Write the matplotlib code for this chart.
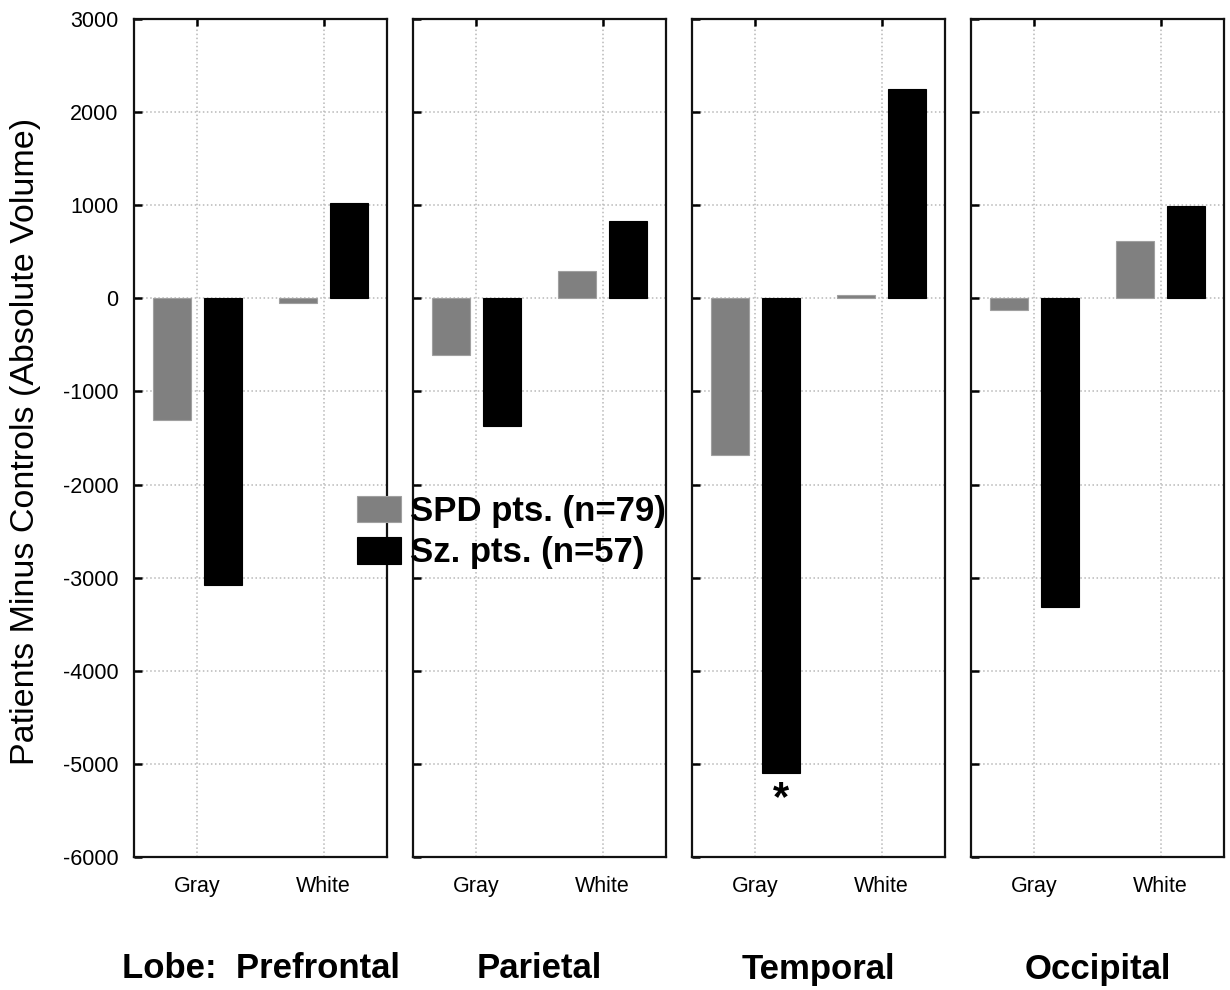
import matplotlib
matplotlib.use("Agg")
import matplotlib.pyplot as plt
import numpy as np

plt.rcParams["font.family"] = ["Liberation Sans", "DejaVu Sans"]
plt.rcParams["axes.unicode_minus"] = False

lobes = ["Prefrontal", "Parietal", "Temporal", "Occipital"]
lobe_titles = ["Lobe:  Prefrontal", "Parietal", "Temporal", "Occipital"]
tissues = ["Gray", "White"]
groups = ["SPD pts. (n=79)", "Sz. pts. (n=57)"]

# patients minus controls, per lobe: [gray, white]
spd_diff = [[-1310, -50], [-605, 290], [-1680, 40], [-120, 615]]
sz_diff = [[-3080, 1025], [-1370, 830], [-5095, 2245], [-3320, 990]]

# significant difference marked with an asterisk: (lobe, tissue)
significant = [("Temporal", "Gray")]

colors = ["#808080", "#000000"]
edges = ["#a0a0a0", "#000000"]

fig = plt.figure(figsize=(12.3, 9.9), dpi=100)

W, H = 1230, 990
panel_left = [134, 413, 692, 971]
panel_w = 253
top, bottom = 19, 857

x = np.arange(len(tissues))
axes = []
for i, lobe in enumerate(lobes):
    ax = fig.add_axes([panel_left[i] / W, 1 - bottom / H, panel_w / W, (bottom - top) / H])
    axes.append(ax)
    for g, vals in enumerate([spd_diff[i], sz_diff[i]]):
        ax.bar(x + (g - 0.5) * 0.4, vals, width=0.3, color=colors[g],
               edgecolor=edges[g], linewidth=0.8, label=groups[g], zorder=3)

    for lb, ts in significant:
        if lb == lobe:
            j = tissues.index(ts)
            ax.annotate("*", xy=(x[j] + 0.2, sz_diff[i][j]), xytext=(0, -19),
                        textcoords="offset points", ha="center", va="center",
                        fontsize=30, fontweight="bold", zorder=4)

    ax.set_xlim(-0.5, 1.5)
    ax.set_ylim(-6000, 3000)
    ax.set_yticks(np.arange(-6000, 3001, 1000))
    ax.set_xticks(x)
    ax.set_xticklabels(tissues)
    ax.grid(True, linestyle=":", color="#b8b8b8", linewidth=1.1, zorder=0)
    ax.tick_params(axis="x", bottom=False, top=True, labelbottom=True, direction="in",
                   length=5, width=1.8, pad=14, labelsize=15.5)
    ax.tick_params(axis="y", left=True, right=False, direction="in",
                   length=6, width=1.8, pad=11, labelsize=15.5)
    if i > 0:
        ax.tick_params(axis="y", labelleft=False)
    for sp in ax.spines.values():
        sp.set_linewidth(1.6)
        sp.set_color("#111111")

    fig.text((panel_left[i] + panel_w / 2) / W, 1 - 969 / H, lobe_titles[i],
             ha="center", va="center", fontsize=25, fontweight="bold")

fig.text(26 / W, 1 - 441 / H, "Patients Minus Controls (Absolute Volume)",
         rotation=90, ha="center", va="center", fontsize=24.5)

handles, labels = axes[0].get_legend_handles_labels()
fig.legend(handles, labels, loc="upper left", bbox_to_anchor=(357 / W, 1 - 495 / H),
           frameon=False, borderpad=0, borderaxespad=0, handlelength=1.27,
           handleheight=0.8, handletextpad=0.25, labelspacing=0.24,
           prop={"size": 25, "weight": "bold"})

fig.savefig("out.png", dpi=100)
